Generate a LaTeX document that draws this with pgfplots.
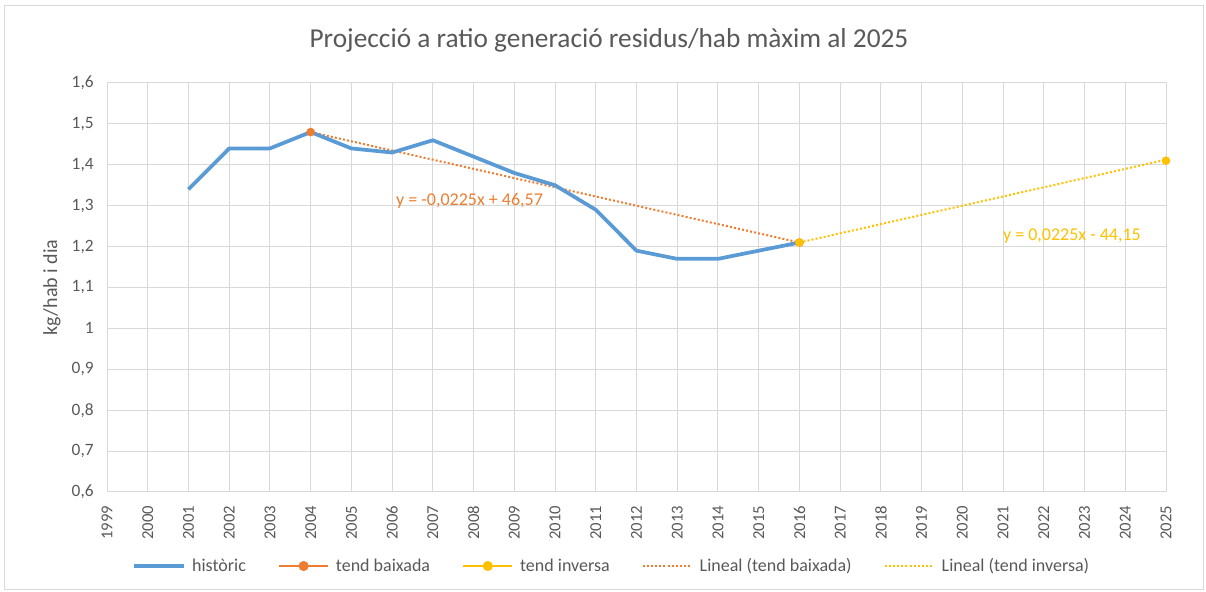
\documentclass[border=0pt]{standalone}
\usepackage{pgfplots}
\pgfplotsset{compat=1.18}
\usepackage{fontspec}
\setmainfont{Carlito}
\definecolor{cblue}{HTML}{5B9BD5}
\definecolor{corange}{HTML}{ED7D31}
\definecolor{cyellow}{HTML}{FFC000}
\definecolor{cgrid}{HTML}{D9D9D9}
\definecolor{ctext}{HTML}{595959}
\begin{document}
\begin{tikzpicture}
\useasboundingbox (0pt,0pt) rectangle (904.5pt,444pt);
\draw[cgrid, line width=0.75pt] (3.4pt,1.9pt) rectangle (902.6pt,439.5pt);
\node[text=ctext, font=\fontsize{20.5pt}{24pt}\selectfont] at (456.75pt,414pt) {Projecció a ratio generació residus/hab màxim al 2025};
\begin{axis}[
  at={(80.25pt,75pt)}, anchor=south west,
  scale only axis, width=794.25pt, height=306.75pt,
  xmin=1999, xmax=2025, ymin=0.6, ymax=1.6,
  xtick distance=1, ytick distance=0.1,
  grid=major, major grid style={cgrid, line width=0.75pt},
  axis line style={cgrid, line width=0.75pt},
  major tick length=0pt,
  /pgf/number format/assume math mode=true,
  xticklabel style={yshift=-7pt, rotate=90, anchor=east, text=ctext, font=\fontsize{12.5pt}{14pt}\selectfont, /pgf/number format/1000 sep={}},
  yticklabel style={anchor=east, xshift=-6.5pt, text=ctext, font=\fontsize{13pt}{14pt}\selectfont, /pgf/number format/use comma, /pgf/number format/fixed, /pgf/number format/precision=1},
  ylabel={kg/hab i dia}, ylabel style={text=ctext, font=\fontsize{15pt}{16pt}\selectfont, at={(axis description cs:-0.052,0.5)}, anchor=center},
  clip=false,
  legend columns=5,
  legend style={at={(0.477,-0.181)}, anchor=center, draw=none, fill=none, font=\fontsize{13.5pt}{15pt}\selectfont, text=ctext,
    /tikz/every odd column/.append style={column sep=3pt},
    /tikz/every even column/.append style={column sep=22pt}},
  legend image code/.code={\draw[mark repeat=2,mark phase=2,#1] plot coordinates {(0pt,0pt) (18.5pt,0pt) (37pt,0pt)};},
]
% trend lines
\addplot[forget plot, corange, line width=1.5pt, dash pattern=on 1.5pt off 1.6pt] coordinates {(2004,1.48) (2016,1.21)};
\addplot[forget plot, cyellow, line width=1.5pt, dash pattern=on 1.5pt off 1.6pt] coordinates {(2016,1.21) (2025,1.4125)};
% historic
\addplot[forget plot, cblue, line width=2.8pt, line join=round] coordinates {
(2001,1.34) (2002,1.44) (2003,1.44) (2004,1.48) (2005,1.44) (2006,1.43) (2007,1.46) (2008,1.42)
(2009,1.38) (2010,1.35) (2011,1.29) (2012,1.19) (2013,1.17) (2014,1.17) (2015,1.19) (2016,1.21)};
% markers
\addplot[forget plot, only marks, mark=*, mark size=3pt, corange, mark options={fill=corange, draw=corange}] coordinates {(2004,1.48) (2016,1.21)};
\addplot[forget plot, only marks, mark=*, mark size=3pt, cyellow, mark options={fill=cyellow, draw=cyellow}] coordinates {(2016,1.21) (2025,1.41)};
% legend
\addlegendimage{cblue, line width=2.8pt}
\addlegendentry{històric}
\addlegendimage{corange, line width=1.5pt, mark=*, mark size=3pt}
\addlegendentry{tend baixada}
\addlegendimage{cyellow, line width=1.5pt, mark=*, mark size=3pt}
\addlegendentry{tend inversa}
\addlegendimage{corange, line width=1.5pt, dash pattern=on 1.5pt off 1.6pt}
\addlegendentry{Lineal (tend baixada)}
\addlegendimage{cyellow, line width=1.5pt, dash pattern=on 1.5pt off 1.6pt}
\addlegendentry{Lineal (tend inversa)}
\node[text=corange, font=\fontsize{13.5pt}{15pt}\selectfont] at (axis cs:2007.9,1.3115) {y = -0,0225x + 46,57};
\node[text=cyellow, font=\fontsize{13.5pt}{15pt}\selectfont] at (axis cs:2022.69,1.226) {y = 0,0225x - 44,15};
\end{axis}
\end{tikzpicture}
\end{document}
